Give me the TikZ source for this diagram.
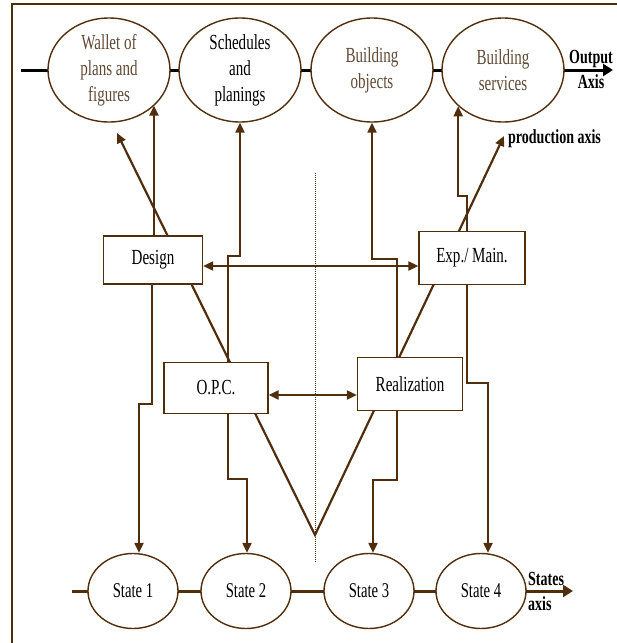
\documentclass[tikz,border=0pt]{standalone}
\usepackage{fontspec}
\setmainfont{Liberation Serif}[FakeStretch=0.7]
\usetikzlibrary{arrows.meta,shapes.geometric,backgrounds}
\definecolor{linebrown}{RGB}{80,45,12}
\definecolor{textbrown}{RGB}{96,74,54}
\tikzset{
  outell/.style={draw=linebrown,line width=1.4pt,fill=white,ellipse,inner sep=0pt,
    minimum width=122pt,minimum height=104pt},
  outtext/.style={align=center,inner sep=0pt,font=\fontsize{21.5}{26}\selectfont},
  stateell/.style={draw=linebrown,line width=1.4pt,fill=white,ellipse,inner sep=0pt,
    minimum width=90pt,minimum height=75pt,font=\fontsize{21}{25}\selectfont},
  phasebox/.style={draw=linebrown,line width=1.4pt,fill=white,rectangle,inner sep=0pt,
    font=\fontsize{21.5}{26}\selectfont},
  link/.style={draw=linebrown,line width=2.2pt},
  tip/.tip={Triangle[length=10pt,width=9pt]},
  arr/.style={link,-tip},
  biarr/.style={link,tip-tip},
  axislabel/.style={inner sep=0pt,font=\fontsize{20}{25}\bfseries\selectfont},
}
\begin{document}
\begin{tikzpicture}[x=1pt,y=-1pt]
\useasboundingbox (0,0) rectangle (617,643);

% output axis: the four products
\node[outell] (wallet) at (109,70) {};
\node[outell] (sched)  at (240,70) {};
\node[outell] (bobj)   at (372,70) {};
\node[outell] (bserv)  at (503,70) {};
\node[outtext,text=textbrown] (wallet-t) at (wallet) {Wallet of\\plans and\\figures};
\node[outtext] (sched-t) at (sched) {Schedules\\and\\planings};
\node[outtext,text=textbrown] (bobj-t) at (bobj) {Building\\objects};
\node[outtext,text=textbrown] (bserv-t) at (bserv) {Building\\services};

% phases
\node[phasebox,minimum width=99pt,minimum height=48pt]  (design) at (153,260) {Design};
\node[phasebox,minimum width=106pt,minimum height=53pt] (exp)    at (472,258) {Exp./ Main.};
\node[phasebox,minimum width=104pt,minimum height=51pt] (opc)    at (216,388) {O.P.C.};
\node[phasebox,minimum width=105pt,minimum height=53pt] (real)   at (410,384) {Realization};

% states axis
\node[stateell] (s1) at (133,591) {State 1};
\node[stateell] (s2) at (246,591) {State 2};
\node[stateell] (s3) at (369,591) {State 3};
\node[stateell] (s4) at (481,591) {State 4};

% axis ends and the production axis
\coordinate (outstart) at (21,70);
\coordinate (outend) at (613,70);
\coordinate (ststart) at (72,591);
\coordinate (stend) at (573,591);
\coordinate (prodl) at (117,133);
\coordinate (prodv) at (315,535);
\coordinate (prodr) at (504,136);
\coordinate (midtop) at (315,173);
\coordinate (midbot) at (315,562);

\node[axislabel,align=center] (outlab) at (591,69) {Output\\Axis};
\node[axislabel,anchor=west] (prodlab) at (508,139) {production axis};
\node[axislabel,align=left,anchor=west] (stlab) at (528,591) {States\\axis};

\begin{scope}[on background layer]
  % frame
  \draw[linebrown,line width=1.6pt] (12,643) -- (12,4) -- (617,4);
  % axes
  \draw[black,line width=3pt,-{Triangle[length=10pt,width=12pt]}] (outstart) -- (outend);
  \draw[linebrown,line width=3pt,-{Triangle[length=10pt,width=12pt]}] (ststart) -- (stend);
  % production axis
  \draw[link,tip-tip,miter limit=10] (prodl) -- (prodv) -- (prodr);
  % middle separator
  \draw[linebrown,line width=1pt,dash pattern=on 1pt off 1pt] (midtop) -- (midbot);
  % phases to products
  \draw[arr] ([xshift=1pt]design.north) -- ([xshift=1pt]design.north |- wallet.-38);
  \draw[arr] ([xshift=12pt]opc.north) -- ++(0,-106) -| (sched.south);
  \draw[arr] ([xshift=-13pt]real.north) -- ++(0,-98) -| (bobj.south);
  \draw[arr] ([xshift=-5pt]exp.north) -- ++(0,-35) -| (bserv.-141);
  % exchanges between phases
  \draw[biarr] ([yshift=-6pt]design.east) -- ([yshift=-6pt]design.east -| exp.west);
  \draw[biarr] ([yshift=-7pt]opc.east) -- ([yshift=-7pt]opc.east -| real.west);
  % phases to states
  \draw[arr] ([xshift=-1pt]design.south) -- ++(0,119) -| ([xshift=6pt]s1.north);
  \draw[arr] ([xshift=12pt]opc.south) -- ++(0,65) -| ([xshift=1pt]s2.north);
  \draw[arr] ([xshift=-13pt]real.south) -- ++(0,69) -| ([xshift=4pt]s3.north);
  \draw[arr] ([xshift=-5pt]exp.south) -- ++(0,98) -| ([xshift=7pt]s4.north);
\end{scope}
\end{tikzpicture}
\end{document}
